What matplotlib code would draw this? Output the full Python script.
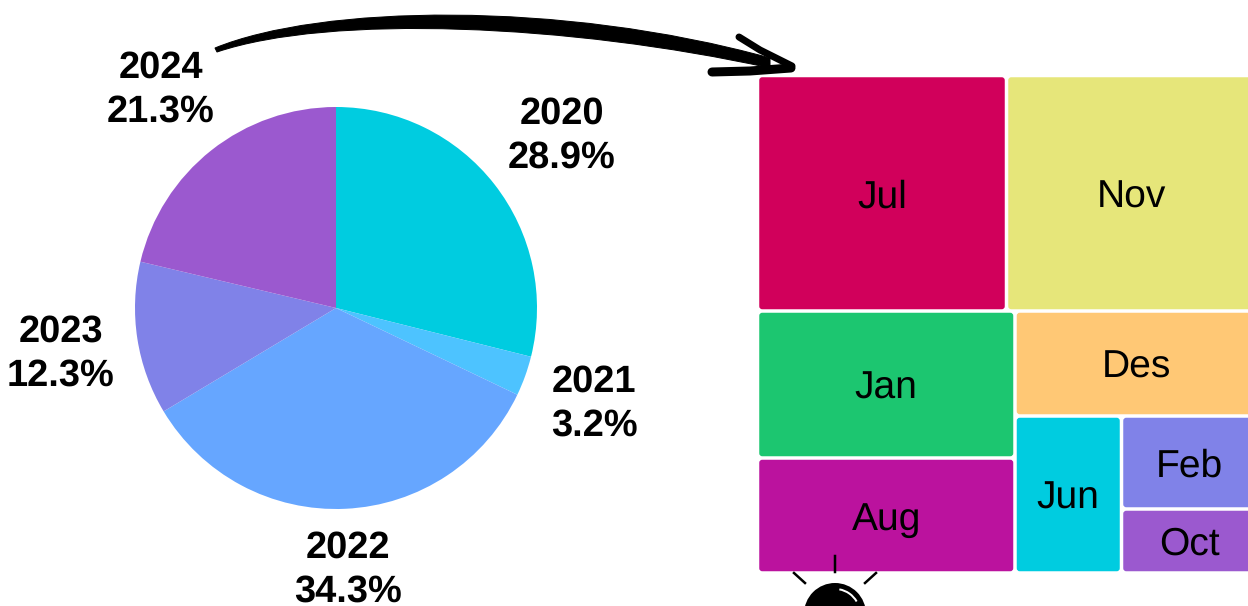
import matplotlib
matplotlib.use("Agg")
import matplotlib.pyplot as plt
from matplotlib.patches import PathPatch, FancyBboxPatch, Circle, Arc
from matplotlib.path import Path

plt.rcParams["text.hinting"] = "no_hinting"
plt.rcParams["text.hinting_factor"] = 1

years = ["2020", "2021", "2022", "2023", "2024"]
year_share = [28.9, 3.2, 34.3, 12.3, 21.3]
year_colors = ["#00CCE0", "#4DC3FF", "#66A6FF", "#8082E8", "#9B59CF"]
year_label_px = [(561.5, 136), (594, 404), (348, 570), (60.5, 354), (160.5, 90)]

months = ["Jul", "Nov", "Jan", "Aug", "Des", "Jun", "Feb", "Oct"]
month_values = [58640, 58993, 37850, 29610, 25410, 16720, 12600, 8672]
month_colors = ["#D1005B", "#E6E67A", "#1CC670", "#BB129E", "#FFC875", "#00CCE0", "#8082E8", "#9B59CF"]

W, H = 1248, 606
fig = plt.figure(figsize=(W / 100, H / 100), dpi=100)
px = lambda v: v * 0.72

# pie
cx, cy, r = 336, 308, 201
axp = fig.add_axes([(cx - r) / W, 1 - (cy + r) / H, 2 * r / W, 2 * r / H])
axp.pie(year_share, colors=year_colors, startangle=90, counterclock=False, radius=1,
        wedgeprops=dict(linewidth=0))
axp.set_xlim(-1, 1); axp.set_ylim(-1, 1); axp.axis("off")

# overlay in pixel coordinates
ax = fig.add_axes([0, 0, 1, 1], zorder=2)
ax.set_xlim(0, W); ax.set_ylim(H, 0); ax.axis("off")

for y, s, (x0, y0) in zip(years, year_share, year_label_px):
    ax.text(x0, y0, f"{y}\n{s}%", ha="center", va="center", fontsize=px(38),
            fontweight="bold", family="Liberation Sans", linespacing=1.31)

# treemap laid out from the values (the right edge runs past the picture)
X0, Y0, TW, TH = 757.5, 75.5, 499.5, 497.5
tree = [[0, 1], [[2, 3], [4, [5, [6, 7]]]]]

def total(n):
    return month_values[n] if isinstance(n, int) else sum(total(c) for c in n)

def layout(n, x, y, w, h, horiz, out):
    if isinstance(n, int):
        out[n] = (x, y, w, h)
        return
    t = total(n)
    pos = 0.0
    for c in n:
        f = total(c) / t
        if horiz:
            layout(c, x + pos * w, y, w * f, h, not horiz, out)
        else:
            layout(c, x, y + pos * h, w, h * f, not horiz, out)
        pos += f

cells = {}
layout(tree, X0, Y0, TW, TH, False, cells)
gap = 1.75
for i, name in enumerate(months):
    x, y, w, h = cells[i]
    ax.add_patch(FancyBboxPatch((x + gap + 2, y + gap + 2), w - 2 * gap - 4, h - 2 * gap - 4,
                                boxstyle="round,pad=2,rounding_size=3",
                                fc=month_colors[i], ec="none", zorder=1))
    ax.text(x + w / 2, y + h / 2 + 4, name, ha="center", va="center", fontsize=px(39),
            family="Liberation Sans", color="black", zorder=2)

# hand-drawn arrow
shaft = Path([(215, 48), (320, 5), (560, 0), (770, 58), (770, 68),
              (570, 24), (330, 14), (217, 52), (215, 48)],
             [Path.MOVETO, Path.CURVE4, Path.CURVE4, Path.CURVE4, Path.LINETO,
              Path.CURVE4, Path.CURVE4, Path.CURVE4, Path.CLOSEPOLY])
ax.add_patch(PathPatch(shaft, fc="black", ec="black", lw=px(1), zorder=3))
ax.plot([739, 760, 792], [37, 50, 66], color="black", lw=px(7), solid_capstyle="round", zorder=3)
ax.plot([712, 750, 791], [72, 71, 68], color="black", lw=px(9), solid_capstyle="round", zorder=3)

# light bulb peeking at the bottom
ax.add_patch(Circle((835, 614), 31, fc="black", ec="none", zorder=3))
ax.add_patch(Arc((835, 614), 50, 50, theta1=-80, theta2=-30, color="white", lw=px(2), zorder=4))
for xs, ys in [([835, 835], [556, 572]), ([794, 805], [573, 583]), ([876, 865], [573, 583])]:
    ax.plot(xs, ys, color="black", lw=px(2.5), zorder=3)

fig.savefig("out.png", dpi=100)
